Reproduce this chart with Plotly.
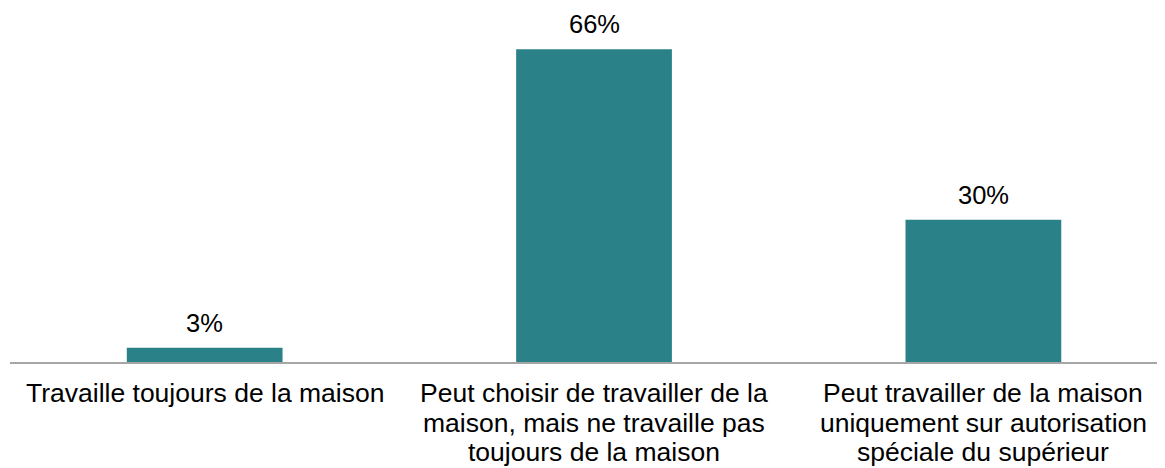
import plotly.graph_objects as go

category_lines = [
    ["Travaille toujours de la maison"],
    ["Peut choisir de travailler de la", "maison, mais ne travaille pas", "toujours de la maison"],
    ["Peut travailler de la maison", "uniquement sur autorisation", "spéciale du supérieur"],
]
categories = [" ".join(lines) for lines in category_lines]
values = [3, 66, 30]
value_labels = ["3%", "66%", "30%"]

FONT = "Liberation Sans, Arial, sans-serif"
BAR_COLOR = "#2A8288"
FS = 26.5
LINE_GAP = 29.5

xs = list(range(len(categories)))

fig = go.Figure()
fig.add_trace(go.Bar(
    x=xs,
    y=values,
    width=0.4,
    marker=dict(color=BAR_COLOR, line=dict(width=0)),
    hoverinfo="skip",
))

for i, (v, lab) in enumerate(zip(values, value_labels)):
    fig.add_annotation(
        x=i, y=v, text=lab, showarrow=False,
        yanchor="bottom", yshift=9,
        font=dict(family=FONT, size=FS - 1, color="#000000"),
    )

for i, lines in enumerate(category_lines):
    for k, line in enumerate(lines):
        fig.add_annotation(
            x=i, xref="x", y=0, yref="paper", text=line, showarrow=False,
            yanchor="top", yshift=-14 - k * LINE_GAP,
            font=dict(family=FONT, size=FS, color="#000000"),
        )

fig.update_layout(
    width=1165, height=468,
    margin=dict(l=2, r=0, t=0, b=114),
    paper_bgcolor="white", plot_bgcolor="white",
    showlegend=False,
    font=dict(family=FONT, size=FS, color="#000000"),
    xaxis=dict(
        tickmode="array",
        tickvals=xs,
        ticktext=categories,
        showticklabels=False,
        range=[-0.5, 2.487],
        showline=True, linecolor="#A6A6A6", linewidth=1.5,
        showgrid=False, zeroline=False, ticks="",
    ),
    yaxis=dict(
        range=[0, 74.7], visible=False, showgrid=False, zeroline=False,
    ),
)

fig.write_html("out.html")
